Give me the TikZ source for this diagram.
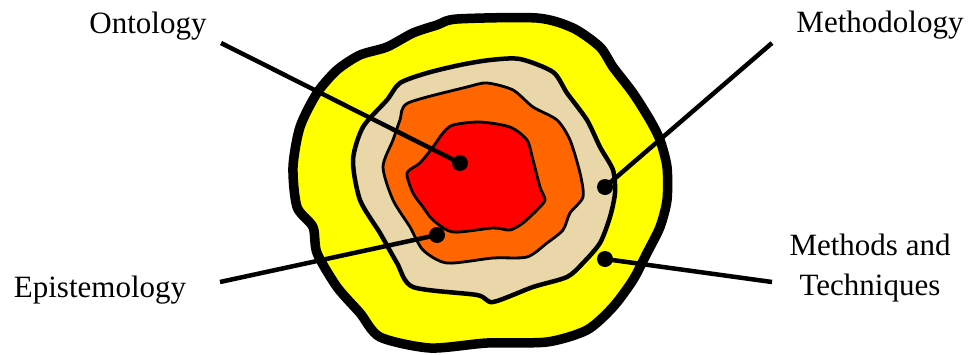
\documentclass[tikz,border=0pt]{standalone}
\usepackage{fontspec}
\setmainfont{Liberation Serif}
\begin{document}
\begin{tikzpicture}[x=1pt,y=-1pt,
  blob/.style={draw=black,line join=round},
  dotnode/.style={circle,fill=black,inner sep=0pt,minimum size=16pt},
  lbl/.style={font=\fontsize{31}{40}\selectfont,inner sep=0pt,align=center},
  conn/.style={line width=4.5pt}]
\definecolor{yel}{HTML}{FFFF00}
\definecolor{tan}{HTML}{E9D6A9}
\definecolor{org}{HTML}{FF6600}
\definecolor{rd}{HTML}{FF0000}
\useasboundingbox (0,0) rectangle (970,354);
% outer yellow
\filldraw[blob,fill=yel,line width=9.5pt] plot[smooth cycle,tension=0.45] coordinates{
 (457,19) (537,18) (573,28) (600,47) (613,67) (633,93) (650,120) (660,140) (667,167)
 (667,200) (660,227) (647,253) (633,280) (613,307) (587,330) (547,342) (487,343)
 (430,348) (380,337) (360,313) (337,287) (317,253) (313,227) (297,207) (293,167)
 (300,127) (317,93) (337,70) (360,55) (387,47) (413,33) (437,25)};
% tan
\filldraw[blob,fill=tan,line width=4.5pt] plot[smooth cycle,tension=0.45] coordinates{
 (490,60) (520,59) (553,72) (567,93) (587,120) (600,147) (613,170) (615,193) (610,217)
 (600,243) (583,263) (567,277) (533,287) (493,302) (477,295) (413,287) (397,263)
 (380,233) (360,200) (353,160) (363,127) (387,100) (400,83) (427,73) (460,65)};
% orange
\filldraw[blob,fill=org,line width=2.8pt] plot[smooth cycle,tension=0.45] coordinates{
 (408,103) (467,87) (487,83) (513,90) (533,107) (557,120) (570,140) (580,173) (583,197)
 (570,213) (563,230) (547,243) (527,257) (493,258) (447,263) (423,250) (410,227)
 (393,200) (383,167) (393,140) (400,120)};
% red
\filldraw[blob,fill=rd,line width=2.8pt] plot[smooth cycle,tension=0.45] coordinates{
 (453,125) (480,122) (510,127) (527,140) (533,160) (540,187) (545,200) (537,210)
 (523,223) (510,230) (493,228) (453,232) (433,220) (423,207) (413,193) (407,173)
 (420,163) (433,147) (443,133)};
% dots
\node[dotnode] (d1) at (460,163) {};
\node[dotnode] (d2) at (437,235) {};
\node[dotnode] (d3) at (605,187) {};
\node[dotnode] (d4) at (605,259) {};
% labels
\node[lbl,anchor=base] (l1) at (148,33) {Ontology};
\node[lbl,anchor=base] (l2) at (880,32) {Methodology};
\node[lbl,anchor=base] (l3) at (100,297) {Epistemology};
\node[lbl,anchor=base] (l4) at (870,295) {Methods and\\Techniques};
\coordinate (e1) at (221,43);
\coordinate (e2) at (772,43);
\coordinate (e3) at (220,282);
\coordinate (e4) at (772,282);
\draw[conn] (e1) -- (d1.center);
\draw[conn] (e2) -- (d3.center);
\draw[conn] (e3) -- (d2.center);
\draw[conn] (e4) -- (d4.center);
\end{tikzpicture}
\end{document}
